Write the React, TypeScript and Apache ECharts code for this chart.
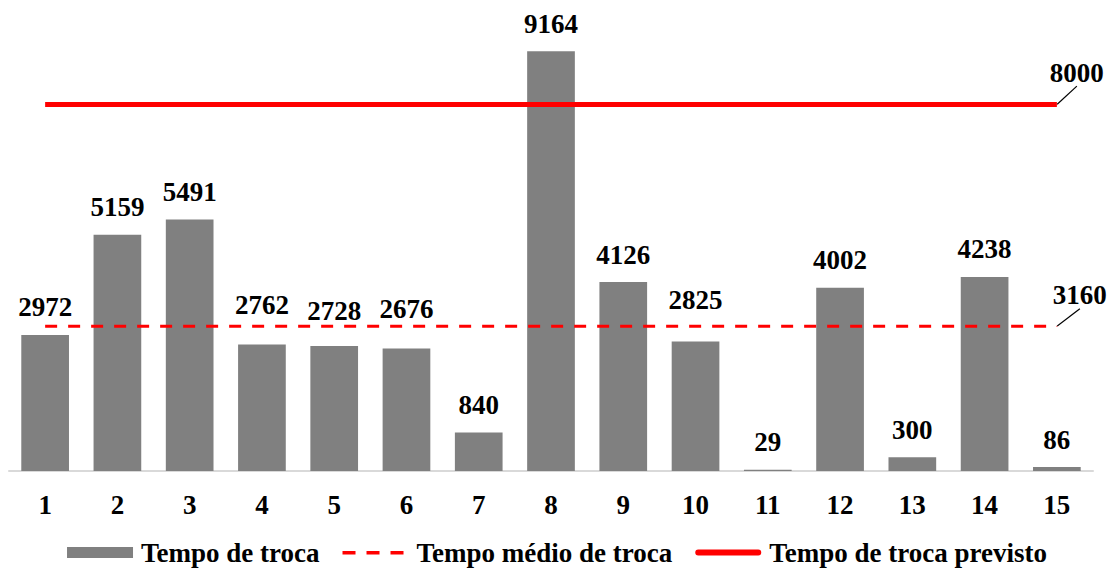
import React, { useEffect, useRef } from "react";
import * as echarts from "echarts";

const categories = ["1", "2", "3", "4", "5", "6", "7", "8", "9", "10", "11", "12", "13", "14", "15"];
const tempoTroca = [2972, 5159, 5491, 2762, 2728, 2676, 840, 9164, 4126, 2825, 29, 4002, 300, 4238, 86];
const tempoMedio = 3160;
const tempoPrevisto = 8000;
const seriesNames = ["Tempo de troca", "Tempo médio de troca", "Tempo de troca previsto"];

const FONT = "Liberation Serif";
const FS = 27;
const LABEL_DIST = 14;
// extra lift (px) for value labels that were moved above the average line
const labelLift: Record<number, number> = { 3: 12, 4: 8, 5: 12, 9: 14 };

// legend icons drawn in a 66x11 box (tiny corner squares fix the bounding box)
const BOX = "M0,0h0.05v0.05h-0.05z M65.95,10.95h0.05v0.05h-0.05z";
const DASH_ICON = "path://" + BOX + " M0,4h13v3.5h-13z M24,4h13v3.5h-13z M48,4h13v3.5h-13z";
const SOLID_ICON = "path://" + BOX + " M3,2.5h60a3,3 0 0 1 0,6h-60a3,3 0 0 1 0,-6z";

function constLine(v: number) {
  return categories.map((_, i) =>
    i === categories.length - 1
      ? { value: v, symbol: "circle", symbolSize: 1, label: { show: true } }
      : { value: v }
  );
}

export default function App() {
  const ref = useRef<HTMLDivElement>(null);
  useEffect(() => {
    if (!ref.current) return;
    const chart = echarts.init(ref.current, undefined, { renderer: "svg" });
    const endLabel = {
      show: false,
      position: "top",
      distance: 5,
      color: "#000",
      fontSize: FS,
      fontWeight: "bold",
      fontFamily: FONT,
      formatter: "{c}",
    };
    const barData = tempoTroca.map((v, i) =>
      labelLift[i] ? { value: v, label: { distance: LABEL_DIST + labelLift[i] } } : v
    );
    chart.setOption({
      animation: false,
      textStyle: { fontFamily: FONT },
      grid: { left: 9, right: 21, top: 13, bottom: 98, containLabel: false },
      legend: {
        bottom: -2,
        left: "center",
        itemWidth: 66,
        itemHeight: 11,
        itemGap: 23,
        textStyle: {
          fontSize: FS,
          fontWeight: "bold",
          fontFamily: FONT,
          color: "#000",
          padding: [0, 0, 0, 3],
        },
        data: [
          { name: seriesNames[0], icon: "rect" },
          { name: seriesNames[1], icon: DASH_ICON, itemStyle: { color: "#ff0000" } },
          { name: seriesNames[2], icon: SOLID_ICON, itemStyle: { color: "#ff0000" } },
        ],
      },
      xAxis: {
        type: "category",
        data: categories,
        axisLine: { lineStyle: { color: "#d9d9d9", width: 2 } },
        axisTick: { show: false },
        axisLabel: {
          color: "#000",
          fontSize: FS,
          fontWeight: "bold",
          fontFamily: FONT,
          margin: 20,
          interval: 0,
        },
      },
      yAxis: {
        type: "value",
        min: 0,
        max: 10000,
        show: false,
        splitLine: { show: false },
      },
      series: [
        {
          name: seriesNames[0],
          type: "bar",
          data: barData,
          barWidth: "66%",
          itemStyle: { color: "#808080" },
          label: {
            show: true,
            position: "top",
            distance: LABEL_DIST,
            color: "#000",
            fontSize: FS,
            fontWeight: "bold",
            fontFamily: FONT,
          },
          z: 1,
        },
        {
          name: seriesNames[1],
          type: "line",
          data: constLine(tempoMedio),
          symbol: "none",
          lineStyle: { color: "#ff0000", width: 3, type: [12, 11] },
          itemStyle: { color: "#ff0000" },
          label: endLabel,
          labelLine: { show: true, lineStyle: { color: "#000", width: 1.2 } },
          labelLayout: { dx: 23, dy: -12 },
          z: 3,
        },
        {
          name: seriesNames[2],
          type: "line",
          data: constLine(tempoPrevisto),
          symbol: "none",
          lineStyle: { color: "#ff0000", width: 5 },
          itemStyle: { color: "#ff0000" },
          label: endLabel,
          labelLine: { show: true, lineStyle: { color: "#000", width: 1.2 } },
          labelLayout: { dx: 20, dy: -13 },
          z: 3,
        },
      ],
    });
    return () => chart.dispose();
  }, []);
  return <div ref={ref} style={{ width: 1114, height: 569, position: "absolute", left: 0, top: 0 }} />;
}
